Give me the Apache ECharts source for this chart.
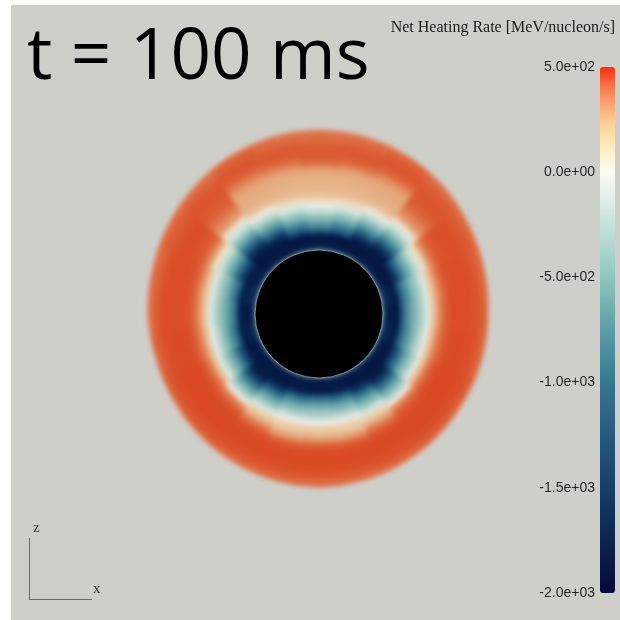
<!DOCTYPE html>
<html>
<head>
<meta charset="utf-8">
<script src="https://cdn.jsdelivr.net/npm/echarts@6/dist/echarts.min.js"></script>
<style>
  html, body { margin: 0; padding: 0; background: #ffffff; width: 620px; height: 620px; overflow: hidden; }
  #panel { position: absolute; left: 11px; top: 5px; width: 609px; height: 615px; background: #cfcfca; }
  #field { position: absolute; left: 0; top: 0; width: 620px; height: 620px; filter: blur(2.5px); }
  #overlay { position: absolute; left: 0; top: 0; width: 620px; height: 620px; }
</style>
</head>
<body>
<div id="panel"></div>
<div id="field"></div>
<div id="overlay"></div>
<script>
// Net heating rate [MeV/nucleon/s] on a meridional slice at t = 100 ms.
// Angles are measured counter-clockwise from +x; radii are shell centres.
const angles = [0, 15, 30, 45, 60, 75, 90, 105, 120, 135, 150, 165,
                180, 195, 210, 225, 240, 255, 270, 285, 300, 315, 330, 345];
const radii = [67, 73, 79, 85, 91, 97, 103, 109, 115, 121, 127, 133, 139, 145, 151, 157, 163, 169, 175, 181, 187];
// radius of the shock front along each angle
const outerEdge = [169, 171, 174, 178, 181, 183, 184, 183, 181, 178, 175, 172,
                   171, 169, 169, 170, 171, 172, 173, 172, 171, 170, 169, 169];
const RING_STEP = 6;
const ANGLE_STEP = 15;
const coreRadius = 64;

// one row per angle, one value per radius (null = outside the shocked region)
const heating = [
  [-1800,-1950,-1950,-1150, -800, -600, -400, -100,  150,  320,  420,  460,  470,  470,  465,  455,  430,  390, null, null, null],
  [-1700,-1850,-1900,-1200, -850, -600, -400, -100,  150,  300,  410,  455,  465,  470,  465,  455,  430,  390, null, null, null],
  [-1850,-1950,-1950,-1600,-1100, -750, -500, -200,   80,  280,  400,  440,  455,  460,  460,  455,  435,  405,  375, null, null],
  [-1850,-1950,-1950,-1900,-1600,-1150, -800, -500, -200,   60,  250,  330,  380,  420,  440,  445,  440,  420,  380, null, null],
  [-1900,-1950,-1950,-1800,-1300, -900, -600, -300,   20,  150,  210,  220,  230,  250,  320,  400,  440,  440,  420,  380, null],
  [-1850,-1950,-1950,-1300, -950, -650, -400, -100,   90,  170,  200,  210,  220,  250,  350,  420,  440,  430,  400,  370, null],
  [-1800,-1950,-1900,-1150, -800, -550, -300,    0,  110,  180,  200,  210,  220,  260,  380,  430,  440,  420,  390,  370, null],
  [-1850,-1950,-1950,-1300, -950, -650, -400, -100,   90,  170,  200,  210,  220,  250,  340,  410,  440,  430,  400,  370, null],
  [-1900,-1950,-1950,-1800,-1300, -900, -600, -300,   20,  150,  210,  220,  230,  260,  330,  400,  440,  440,  420,  380, null],
  [-1850,-1950,-1950,-1900,-1600,-1150, -800, -500, -200,   60,  250,  330,  380,  420,  440,  445,  445,  420,  380, null, null],
  [-1800,-1900,-1900,-1550,-1100, -750, -500, -200,   80,  280,  400,  440,  460,  465,  465,  455,  435,  410,  380, null, null],
  [-1700,-1800,-1900,-1200, -850, -600, -400, -100,  150,  300,  410,  455,  465,  470,  470,  460,  430,  390, null, null, null],
  [-1850,-1950,-1900,-1100, -800, -600, -400, -100,  150,  320,  420,  460,  470,  470,  470,  460,  430,  380, null, null, null],
  [-1750,-1850,-1900,-1200, -850, -600, -350,  -50,  180,  340,  430,  465,  475,  475,  470,  460,  430,  385, null, null, null],
  [-1850,-1950,-1950,-1500,-1050, -700, -450, -100,  180,  360,  450,  475,  480,  480,  475,  465,  440,  390, null, null, null],
  [-1900,-1950,-1950,-1900,-1500,-1050, -700, -400,   30,  330,  430,  470,  480,  480,  480,  470,  445,  395, null, null, null],
  [-1900,-1950,-1950,-1600,-1100, -750, -500, -150,  120,  220,  360,  450,  475,  480,  475,  465,  440,  390, null, null, null],
  [-1900,-1950,-1900,-1250, -850, -600, -350,  -20,  120,  170,  280,  420,  470,  475,  475,  465,  440,  390, null, null, null],
  [-1950,-1950,-1900,-1150, -800, -550, -350,    0,  130,  180,  300,  430,  470,  475,  475,  465,  440,  390, null, null, null],
  [-1900,-1950,-1900,-1250, -850, -600, -350,  -20,  120,  170,  280,  420,  470,  475,  475,  465,  440,  390, null, null, null],
  [-1900,-1950,-1950,-1600,-1100, -750, -500, -150,  120,  220,  360,  450,  475,  480,  475,  465,  440,  390, null, null, null],
  [-1900,-1950,-1950,-1900,-1500,-1050, -700, -400,   30,  330,  430,  470,  480,  480,  480,  470,  445,  395, null, null, null],
  [-1850,-1950,-1950,-1500,-1050, -700, -450, -100,  180,  360,  450,  475,  480,  480,  475,  465,  440,  390, null, null, null],
  [-1750,-1850,-1900,-1200, -850, -600, -350,  -50,  180,  340,  430,  465,  475,  475,  470,  460,  430,  385, null, null, null]
];

const colorbarTickValues = [-2000, -1500, -1000, -500, 0, 500];
const colorbarTickLabels = ['-2.0e+03', '-1.5e+03', '-1.0e+03', '-5.0e+02', '0.0e+00', '5.0e+02'];
const VMIN = -2000, VMAX = 500;

// diverging colour map: [value, colour]
const barStops = [
  [-2000, '#050a3c'], [-1750, '#0b2450'], [-1500, '#173e6a'], [-1250, '#245a80'],
  [-1000, '#347892'], [-750, '#5a9ea6'], [-500, '#8ec6bd'], [-250, '#c4e3d9'],
  [0, '#fbfbf4'], [100, '#fdf0c8'], [200, '#fdd9a0'], [300, '#fbb277'],
  [400, '#f77c4e'], [500, '#ff2a10']
];
// same map as it appears on the shaded slice
const fieldStops = [
  [-2000, '#03153f'], [-1750, '#0a2a55'], [-1500, '#16446c'], [-1250, '#245f82'],
  [-1000, '#3a7f92'], [-750, '#64a3a8'], [-500, '#98c6bd'], [-250, '#c8ded6'],
  [0, '#ebece6'], [100, '#ecd9b6'], [200, '#e6b48a'], [300, '#e29263'],
  [400, '#dd663d'], [500, '#d8421b']
];

function hexToRgb(h) {
  return [parseInt(h.slice(1, 3), 16), parseInt(h.slice(3, 5), 16), parseInt(h.slice(5, 7), 16)];
}
// resample a stop list onto evenly spaced colours for visualMap
function ramp(stops, n) {
  const out = [];
  for (let i = 0; i < n; i++) {
    const v = VMIN + (VMAX - VMIN) * i / (n - 1);
    let k = 0;
    while (k < stops.length - 2 && v > stops[k + 1][0]) k++;
    const [v0, c0] = stops[k], [v1, c1] = stops[k + 1];
    const t = Math.min(1, Math.max(0, (v - v0) / (v1 - v0)));
    const a = hexToRgb(c0), b = hexToRgb(c1);
    out.push('rgb(' + a.map((x, j) => Math.round(x + (b[j] - x) * t)).join(',') + ')');
  }
  return out;
}

// cells: [inner radius, angle, value, outer radius at angle, outer radius at +half step, at -half step]
const nA = angles.length;
const cells = [];
angles.forEach((th, i) => {
  const row = heating[i];
  radii.forEach((r, j) => {
    const v = row[j];
    if (v === null) return;
    const last = (j === radii.length - 1) || row[j + 1] === null;
    if (last) {
      const up = (outerEdge[i] + outerEdge[(i + 1) % nA]) / 2;
      const dn = (outerEdge[i] + outerEdge[(i - 1 + nA) % nA]) / 2;
      cells.push([r - RING_STEP / 2, th, v, outerEdge[i], up, dn]);
    } else {
      const ro = r + RING_STEP / 2;
      cells.push([r - RING_STEP / 2, th, v, ro, ro, ro]);
    }
  });
});

const polarCfg = { center: [319, 314], radius: 200 };
const radiusAxisCfg = { type: 'value', min: 0, max: 200, show: false };
const angleAxisCfg = { type: 'value', min: 0, max: 360, startAngle: 0, clockwise: false, show: false };

function dist(p, cx, cy) { return Math.hypot(p[0] - cx, p[1] - cy); }

function renderCell(params, api) {
  const rIn = api.value(0), th = api.value(1);
  const rMid = api.value(3), rUp = api.value(4), rDn = api.value(5);
  const h = ANGLE_STEP / 2, pad = 0.4, n = 8;
  const pts = [];
  for (let k = 0; k <= n; k++) {
    const ang = th - h - pad + (2 * h + 2 * pad) * k / n;
    const u = (ang - th) / h;
    const ro = u < 0 ? rMid + (rMid - rDn) * u : rMid + (rUp - rMid) * u;
    pts.push(api.coord([ro + 0.3, ang]));
  }
  for (let k = n; k >= 0; k--) {
    const ang = th - h - pad + (2 * h + 2 * pad) * k / n;
    pts.push(api.coord([Math.max(0, rIn - 0.5), ang]));
  }
  return { type: 'polygon', shape: { points: pts }, style: { fill: api.visual('color') } };
}

function renderCore(params, api) {
  const cs = params.coordSys;
  const r = dist(api.coord([api.value(0), 0]), cs.cx, cs.cy);
  return {
    type: 'circle',
    shape: { cx: cs.cx, cy: cs.cy, r: r },
    style: { fill: '#000000', stroke: 'rgba(110,170,175,0.85)', lineWidth: 1 }
  };
}

const fieldChart = echarts.init(document.getElementById('field'), null, { renderer: 'canvas' });
fieldChart.setOption({
  animation: false,
  backgroundColor: 'transparent',
  polar: polarCfg,
  radiusAxis: radiusAxisCfg,
  angleAxis: angleAxisCfg,
  visualMap: {
    type: 'continuous', show: false, dimension: 2, min: VMIN, max: VMAX, seriesIndex: 0,
    inRange: { color: ramp(fieldStops, 81) }
  },
  series: [{
    type: 'custom', coordinateSystem: 'polar', renderItem: renderCell, data: cells, silent: true,
    encode: { radius: 0, angle: 1 }
  }]
});

const fmt = v => {
  const k = colorbarTickValues.indexOf(v);
  return k >= 0 ? colorbarTickLabels[k] : '';
};

const overlay = echarts.init(document.getElementById('overlay'), null, { renderer: 'canvas' });
overlay.setOption({
  animation: false,
  backgroundColor: 'transparent',
  polar: polarCfg,
  radiusAxis: radiusAxisCfg,
  angleAxis: angleAxisCfg,
  grid: { left: 600, top: 67, width: 15, height: 526 },
  xAxis: { type: 'value', show: false },
  yAxis: {
    type: 'value', min: VMIN, max: VMAX, interval: 500,
    axisLine: { show: false }, axisTick: { show: false }, splitLine: { show: false },
    axisLabel: { margin: 5, fontSize: 14, color: '#262626', fontFamily: 'Liberation Sans', formatter: fmt }
  },
  visualMap: {
    type: 'continuous', min: VMIN, max: VMAX, orient: 'vertical',
    left: 600, top: 67, itemWidth: 15, itemHeight: 526, padding: 0,
    calculable: false, seriesIndex: [], text: null,
    inRange: { color: ramp(barStops, 81) }
  },
  graphic: [
    { type: 'text', left: 27, top: 23,
      style: { text: 't = 100 ms', font: '400 71px "Open Sans"', fill: '#000000' } },
    { type: 'text', right: 5, top: 20,
      style: { text: 'Net Heating Rate [MeV/nucleon/s]', font: '16px "Liberation Serif"', fill: '#1a1a1a' } },
    { type: 'line', shape: { x1: 29.5, y1: 538, x2: 29.5, y2: 600 }, style: { stroke: '#6a6a6a', lineWidth: 1 } },
    { type: 'line', shape: { x1: 29, y1: 599.5, x2: 92, y2: 599.5 }, style: { stroke: '#6a6a6a', lineWidth: 1 } },
    { type: 'text', x: 33, y: 521, style: { text: 'z', font: '15px "Liberation Serif"', fill: '#333333' } },
    { type: 'text', x: 93, y: 582, style: { text: 'x', font: '15px "Liberation Serif"', fill: '#333333' } }
  ],
  series: [{
    type: 'custom', coordinateSystem: 'polar', renderItem: renderCore, data: [[coreRadius, 0]], silent: true
  }]
});
</script>
</body>
</html>
